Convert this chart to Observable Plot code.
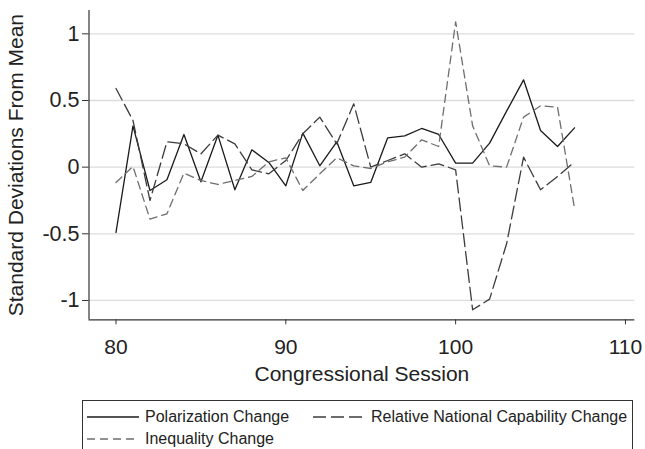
<!DOCTYPE html>
<html>
<head>
<meta charset="utf-8">
<script src="https://cdn.jsdelivr.net/npm/d3@7"></script>
<script src="https://cdn.jsdelivr.net/npm/@observablehq/plot@0.6"></script>
<style>
  html, body { margin: 0; padding: 0; background: #fff; }
  body { width: 645px; height: 449px; overflow: hidden; font-family: "Liberation Sans", Arial, Helvetica, sans-serif; }
  #chart svg { display: block; }
  #legend {
    position: absolute; left: 82px; top: 400px; width: 551px; height: 60px;
    border: 1px solid #333; box-sizing: border-box; font-size: 16px; color: #222;
  }
  .item { position: absolute; display: flex; align-items: center; height: 20px; }
  .item svg { display: block; margin-right: 6px; }
</style>
</head>
<body>
<div id="chart"></div>
<div id="legend"></div>
<script>
const sessions = [80,81,82,83,84,85,86,87,88,89,90,91,92,93,94,95,96,97,98,99,100,101,102,103,104,105,106,107];
const polarization = [-0.49,0.31,-0.175,-0.095,0.245,-0.11,0.24,-0.17,0.13,0.035,-0.14,0.255,0.01,0.19,-0.14,-0.115,0.22,0.235,0.29,0.245,0.03,0.03,0.18,0.42,0.655,0.275,0.155,0.295];
const relativeCapability = [0.59,0.35,-0.25,0.19,0.175,0.10,0.24,0.175,-0.02,-0.05,0.05,0.25,0.375,0.175,0.475,0.0,0.05,0.10,0.0,0.025,-0.02,-1.07,-0.99,-0.575,0.075,-0.17,-0.07,0.04];
const inequality = [-0.115,0.005,-0.39,-0.35,-0.045,-0.10,-0.13,-0.10,-0.07,0.04,0.07,-0.175,-0.05,0.07,0.01,-0.01,0.04,0.075,0.205,0.155,1.09,0.31,0.01,0.0,0.375,0.46,0.45,-0.31];

const seriesNames = ["Polarization Change", "Relative National Capability Change", "Inequality Change"];
const xTicks = [80, 90, 100, 110];
const yTicks = [-1, -0.5, 0, 0.5, 1];
const xTitle = "Congressional Session";
const yTitle = "Standard Deviations From Mean";

const styles = [
  {stroke: "#1a1a1a", dash: null},
  {stroke: "#3c3c3c", dash: "13,5"},
  {stroke: "#6e6e6e", dash: "8,5"}
];
const seriesValues = [polarization, relativeCapability, inequality];
const rows = seriesValues.map(vals => sessions.map((s, i) => ({session: s, value: vals[i]})));

const xDomain = [78.41, 110.55];
const yDomain = [-1.145, 1.175];
const font = "Liberation Sans, Arial, Helvetica, sans-serif";

const chart = Plot.plot({
  width: 645,
  height: 398,
  marginLeft: 88.5,
  marginRight: 10.7,
  marginTop: 10,
  marginBottom: 78.7,
  style: {fontFamily: font, color: "#222", background: "#fff"},
  x: {domain: xDomain, label: null},
  y: {domain: yDomain, label: null},
  marks: [
    Plot.gridY(yTicks, {stroke: "#dcdcdc", strokeOpacity: 1, strokeWidth: 1.3}),
    Plot.axisY(yTicks, {tickSize: 6.5, tickPadding: 3, fontSize: 21.5, tickFormat: d => String(d), stroke: "#333", label: null}),
    Plot.axisX(xTicks, {tickSize: 5, tickPadding: 14, fontSize: 21, tickFormat: d => String(d), stroke: "#333", label: null}),
    Plot.ruleY([yDomain[0]], {stroke: "#333", strokeWidth: 1.2}),
    Plot.ruleX([xDomain[0]], {stroke: "#333", strokeWidth: 1.2}),
    ...rows.map((data, k) => Plot.line(data, {
      x: "session", y: "value",
      stroke: styles[k].stroke, strokeWidth: 1.3,
      strokeDasharray: styles[k].dash || undefined
    })),
    Plot.text([xTitle], {frameAnchor: "bottom", dy: 61, fontSize: 21, fill: "#222"}),
    Plot.text([yTitle], {frameAnchor: "left", textAnchor: "middle", dx: -72.5, rotate: -90, fontSize: 21, fill: "#222"})
  ]
});
document.getElementById("chart").appendChild(chart);

// legend
const legend = document.getElementById("legend");
const positions = [{left: 4, top: 6}, {left: 230, top: 6}, {left: 4, top: 28}];
seriesNames.forEach((name, k) => {
  const item = document.createElement("div");
  item.className = "item";
  item.style.left = positions[k].left + "px";
  item.style.top = positions[k].top + "px";
  const w = 52;
  const dash = styles[k].dash ? ` stroke-dasharray="${styles[k].dash}"` : "";
  item.innerHTML = `<svg width="${w}" height="10"><line x1="0" x2="${w}" y1="5" y2="5" stroke="${styles[k].stroke}" stroke-width="1.3"${dash}/></svg><span>${name}</span>`;
  legend.appendChild(item);
});
</script>
</body>
</html>
